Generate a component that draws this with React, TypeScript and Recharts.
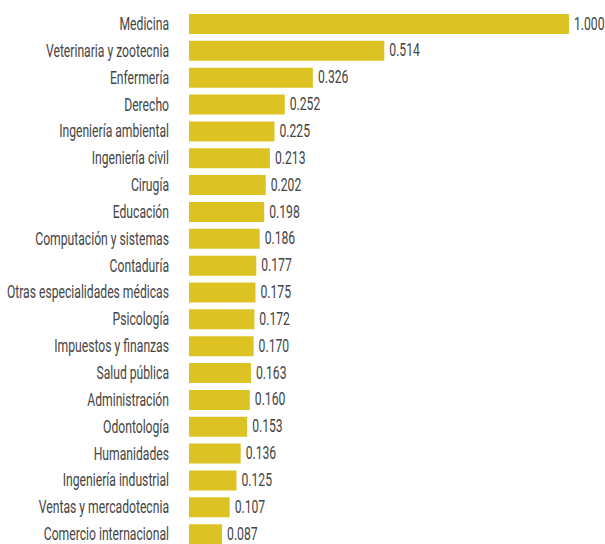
import { BarChart, Bar, XAxis, YAxis, LabelList } from "recharts";

const categories = [
  "Medicina",
  "Veterinaria y zootecnia",
  "Enfermería",
  "Derecho",
  "Ingeniería ambiental",
  "Ingeniería civil",
  "Cirugía",
  "Educación",
  "Computación y sistemas",
  "Contaduría",
  "Otras especialidades médicas",
  "Psicología",
  "Impuestos y finanzas",
  "Salud pública",
  "Administración",
  "Odontología",
  "Humanidades",
  "Ingeniería industrial",
  "Ventas y mercadotecnia",
  "Comercio internacional",
];

const values = [
  1.0, 0.514, 0.326, 0.252, 0.225, 0.213, 0.202, 0.198, 0.186, 0.177, 0.175,
  0.172, 0.17, 0.163, 0.16, 0.153, 0.136, 0.125, 0.107, 0.087,
];

const data = categories.map((c, i) => ({ name: c, value: values[i] }));

const FONT = "Roboto, sans-serif";
const SQUEEZE = 0.64;

const CategoryTick = (props: any) => {
  const { x, y, payload } = props;
  return (
    <text
      transform={`translate(${x},${y - 1}) scale(${SQUEEZE},1)`}
      textAnchor="end"
      dominantBaseline="central"
      fontFamily={FONT}
      fontSize={19}
      fill="#444"
    >
      {payload.value}
    </text>
  );
};

const ValueLabel = (props: any) => {
  const { x, y, width, height, value } = props;
  return (
    <text
      transform={`translate(${x + width + 5},${y + height / 2 - 1}) scale(${SQUEEZE},1)`}
      textAnchor="start"
      dominantBaseline="central"
      fontFamily={FONT}
      fontSize={19}
      fill="#444"
    >
      {Number(value).toFixed(3)}
    </text>
  );
};

export default function App() {
  return (
    <div>
      <style>{`body{margin:0;overflow:hidden}`}</style>
      <BarChart
        width={605}
        height={548}
        data={data}
        layout="vertical"
        margin={{ top: 11, right: 36, bottom: 0, left: 0 }}
        barSize={20}
      >
        <XAxis type="number" domain={[0, 1]} hide />
        <YAxis
          type="category"
          dataKey="name"
          width={189}
          axisLine={false}
          tickLine={false}
          tickSize={0}
          tickMargin={20}
          tick={<CategoryTick />}
          interval={0}
        />
        <Bar dataKey="value" fill="#dcc323" isAnimationActive={false}>
          <LabelList dataKey="value" content={<ValueLabel />} />
        </Bar>
      </BarChart>
    </div>
  );
}
